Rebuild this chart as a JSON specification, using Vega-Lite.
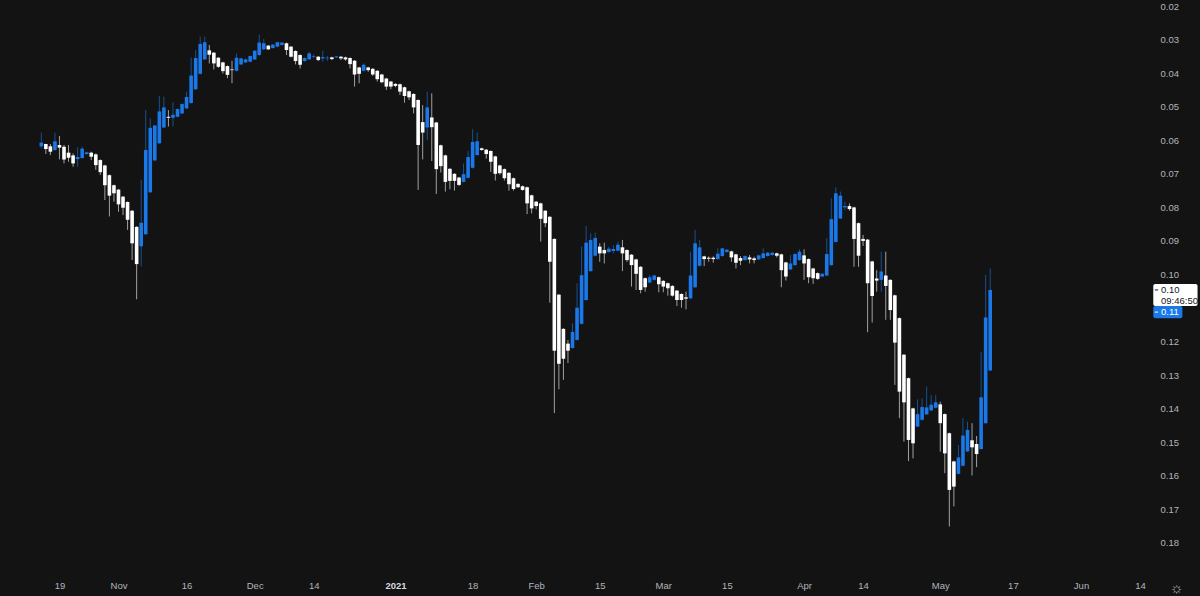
{"$schema":"https://vega.github.io/schema/vega-lite/v6.json","width":1200,"height":596,"padding":0,"autosize":{"type":"none"},"background":"#131313","view":{"stroke":null},"config":{"font":"Liberation Sans"},
"datasets":{"candles":[
{"date":"2020-10-15","open":0.0618,"high":0.0624,"low":0.0577,"close":0.0607},
{"date":"2020-10-16","open":0.0611,"high":0.0641,"low":0.0611,"close":0.0626},
{"date":"2020-10-17","open":0.0618,"high":0.0644,"low":0.0611,"close":0.0634},
{"date":"2020-10-18","open":0.0629,"high":0.0631,"low":0.0577,"close":0.0603},
{"date":"2020-10-19","open":0.0614,"high":0.0657,"low":0.0587,"close":0.0622},
{"date":"2020-10-20","open":0.0619,"high":0.0669,"low":0.0614,"close":0.0657},
{"date":"2020-10-21","open":0.0637,"high":0.0664,"low":0.0614,"close":0.0652},
{"date":"2020-10-22","open":0.0645,"high":0.0679,"low":0.0639,"close":0.0669},
{"date":"2020-10-23","open":0.0656,"high":0.0679,"low":0.0621,"close":0.0650},
{"date":"2020-10-24","open":0.0653,"high":0.0655,"low":0.0619,"close":0.0625},
{"date":"2020-10-25","open":0.0641,"high":0.0643,"low":0.0634,"close":0.0636},
{"date":"2020-10-26","open":0.0637,"high":0.0659,"low":0.0634,"close":0.0649},
{"date":"2020-10-27","open":0.0642,"high":0.0688,"low":0.0639,"close":0.0674},
{"date":"2020-10-28","open":0.0659,"high":0.0703,"low":0.0657,"close":0.0695},
{"date":"2020-10-29","open":0.0675,"high":0.0778,"low":0.0673,"close":0.0734},
{"date":"2020-10-30","open":0.0704,"high":0.0827,"low":0.0702,"close":0.0765},
{"date":"2020-10-31","open":0.0734,"high":0.0783,"low":0.0732,"close":0.0758},
{"date":"2020-11-01","open":0.0747,"high":0.0813,"low":0.0745,"close":0.0791},
{"date":"2020-11-02","open":0.0768,"high":0.0823,"low":0.0766,"close":0.0801},
{"date":"2020-11-03","open":0.0784,"high":0.0867,"low":0.0782,"close":0.0837},
{"date":"2020-11-04","open":0.0810,"high":0.0957,"low":0.0808,"close":0.0907},
{"date":"2020-11-05","open":0.0858,"high":0.1074,"low":0.0856,"close":0.0969},
{"date":"2020-11-06","open":0.0916,"high":0.0976,"low":0.0718,"close":0.0846},
{"date":"2020-11-07","open":0.0880,"high":0.0882,"low":0.0510,"close":0.0629},
{"date":"2020-11-08","open":0.0755,"high":0.0757,"low":0.0535,"close":0.0563},
{"date":"2020-11-09","open":0.0660,"high":0.0662,"low":0.0554,"close":0.0556},
{"date":"2020-11-10","open":0.0609,"high":0.0611,"low":0.0468,"close":0.0514},
{"date":"2020-11-11","open":0.0562,"high":0.0564,"low":0.0470,"close":0.0502},
{"date":"2020-11-12","open":0.0530,"high":0.0559,"low":0.0510,"close":0.0533},
{"date":"2020-11-13","open":0.0533,"high":0.0559,"low":0.0487,"close":0.0524},
{"date":"2020-11-14","open":0.0530,"high":0.0532,"low":0.0505,"close":0.0507},
{"date":"2020-11-15","open":0.0520,"high":0.0522,"low":0.0490,"close":0.0492},
{"date":"2020-11-16","open":0.0505,"high":0.0507,"low":0.0455,"close":0.0471},
{"date":"2020-11-17","open":0.0489,"high":0.0491,"low":0.0353,"close":0.0407},
{"date":"2020-11-18","open":0.0448,"high":0.0450,"low":0.0331,"close":0.0355},
{"date":"2020-11-19","open":0.0402,"high":0.0404,"low":0.0291,"close":0.0313},
{"date":"2020-11-20","open":0.0359,"high":0.0361,"low":0.0291,"close":0.0308},
{"date":"2020-11-21","open":0.0332,"high":0.0371,"low":0.0316,"close":0.0345},
{"date":"2020-11-22","open":0.0339,"high":0.0389,"low":0.0337,"close":0.0371},
{"date":"2020-11-23","open":0.0354,"high":0.0384,"low":0.0352,"close":0.0381},
{"date":"2020-11-24","open":0.0368,"high":0.0401,"low":0.0366,"close":0.0394},
{"date":"2020-11-25","open":0.0379,"high":0.0415,"low":0.0377,"close":0.0405},
{"date":"2020-11-26","open":0.0389,"high":0.0430,"low":0.0363,"close":0.0391},
{"date":"2020-11-27","open":0.0393,"high":0.0395,"low":0.0341,"close":0.0354},
{"date":"2020-11-28","open":0.0374,"high":0.0376,"low":0.0354,"close":0.0356},
{"date":"2020-11-29","open":0.0368,"high":0.0370,"low":0.0357,"close":0.0359},
{"date":"2020-11-30","open":0.0366,"high":0.0368,"low":0.0347,"close":0.0349},
{"date":"2020-12-01","open":0.0359,"high":0.0361,"low":0.0331,"close":0.0333},
{"date":"2020-12-02","open":0.0346,"high":0.0348,"low":0.0285,"close":0.0309},
{"date":"2020-12-03","open":0.0329,"high":0.0331,"low":0.0298,"close":0.0311},
{"date":"2020-12-04","open":0.0318,"high":0.0331,"low":0.0316,"close":0.0329},
{"date":"2020-12-05","open":0.0325,"high":0.0327,"low":0.0313,"close":0.0315},
{"date":"2020-12-06","open":0.0321,"high":0.0323,"low":0.0306,"close":0.0308},
{"date":"2020-12-07","open":0.0316,"high":0.0318,"low":0.0307,"close":0.0309},
{"date":"2020-12-08","open":0.0311,"high":0.0346,"low":0.0309,"close":0.0331},
{"date":"2020-12-09","open":0.0321,"high":0.0353,"low":0.0319,"close":0.0351},
{"date":"2020-12-10","open":0.0334,"high":0.0374,"low":0.0332,"close":0.0364},
{"date":"2020-12-11","open":0.0346,"high":0.0386,"low":0.0344,"close":0.0375},
{"date":"2020-12-12","open":0.0364,"high":0.0366,"low":0.0353,"close":0.0355},
{"date":"2020-12-13","open":0.0359,"high":0.0361,"low":0.0336,"close":0.0341},
{"date":"2020-12-14","open":0.0351,"high":0.0356,"low":0.0344,"close":0.0349},
{"date":"2020-12-15","open":0.0351,"high":0.0364,"low":0.0349,"close":0.0361},
{"date":"2020-12-16","open":0.0356,"high":0.0366,"low":0.0333,"close":0.0352},
{"date":"2020-12-17","open":0.0356,"high":0.0363,"low":0.0349,"close":0.0354},
{"date":"2020-12-18","open":0.0353,"high":0.0361,"low":0.0351,"close":0.0358},
{"date":"2020-12-19","open":0.0353,"high":0.0355,"low":0.0349,"close":0.0350},
{"date":"2020-12-20","open":0.0351,"high":0.0361,"low":0.0349,"close":0.0356},
{"date":"2020-12-21","open":0.0353,"high":0.0363,"low":0.0351,"close":0.0359},
{"date":"2020-12-22","open":0.0355,"high":0.0386,"low":0.0353,"close":0.0373},
{"date":"2020-12-23","open":0.0363,"high":0.0440,"low":0.0361,"close":0.0404},
{"date":"2020-12-24","open":0.0383,"high":0.0430,"low":0.0381,"close":0.0402},
{"date":"2020-12-25","open":0.0393,"high":0.0395,"low":0.0371,"close":0.0375},
{"date":"2020-12-26","open":0.0383,"high":0.0396,"low":0.0381,"close":0.0391},
{"date":"2020-12-27","open":0.0387,"high":0.0408,"low":0.0385,"close":0.0404},
{"date":"2020-12-28","open":0.0393,"high":0.0425,"low":0.0391,"close":0.0418},
{"date":"2020-12-29","open":0.0404,"high":0.0430,"low":0.0402,"close":0.0427},
{"date":"2020-12-30","open":0.0416,"high":0.0450,"low":0.0414,"close":0.0440},
{"date":"2020-12-31","open":0.0425,"high":0.0448,"low":0.0423,"close":0.0440},
{"date":"2021-01-01","open":0.0432,"high":0.0442,"low":0.0430,"close":0.0438},
{"date":"2021-01-02","open":0.0433,"high":0.0465,"low":0.0431,"close":0.0455},
{"date":"2021-01-03","open":0.0442,"high":0.0488,"low":0.0440,"close":0.0468},
{"date":"2021-01-04","open":0.0454,"high":0.0480,"low":0.0452,"close":0.0472},
{"date":"2021-01-05","open":0.0462,"high":0.0520,"low":0.0460,"close":0.0502},
{"date":"2021-01-06","open":0.0480,"high":0.0748,"low":0.0478,"close":0.0614},
{"date":"2021-01-07","open":0.0546,"high":0.0657,"low":0.0495,"close":0.0577},
{"date":"2021-01-08","open":0.0562,"high":0.0599,"low":0.0455,"close":0.0502},
{"date":"2021-01-09","open":0.0532,"high":0.0662,"low":0.0460,"close":0.0561},
{"date":"2021-01-10","open":0.0547,"high":0.0760,"low":0.0545,"close":0.0686},
{"date":"2021-01-11","open":0.0615,"high":0.0696,"low":0.0613,"close":0.0677},
{"date":"2021-01-12","open":0.0645,"high":0.0753,"low":0.0643,"close":0.0724},
{"date":"2021-01-13","open":0.0685,"high":0.0746,"low":0.0683,"close":0.0721},
{"date":"2021-01-14","open":0.0700,"high":0.0750,"low":0.0698,"close":0.0721},
{"date":"2021-01-15","open":0.0711,"high":0.0736,"low":0.0709,"close":0.0733},
{"date":"2021-01-16","open":0.0724,"high":0.0726,"low":0.0669,"close":0.0701},
{"date":"2021-01-17","open":0.0712,"high":0.0714,"low":0.0632,"close":0.0650},
{"date":"2021-01-18","open":0.0682,"high":0.0684,"low":0.0567,"close":0.0605},
{"date":"2021-01-19","open":0.0644,"high":0.0646,"low":0.0577,"close":0.0603},
{"date":"2021-01-20","open":0.0624,"high":0.0631,"low":0.0622,"close":0.0629},
{"date":"2021-01-21","open":0.0628,"high":0.0655,"low":0.0626,"close":0.0641},
{"date":"2021-01-22","open":0.0632,"high":0.0694,"low":0.0630,"close":0.0664},
{"date":"2021-01-23","open":0.0648,"high":0.0720,"low":0.0646,"close":0.0700},
{"date":"2021-01-24","open":0.0675,"high":0.0703,"low":0.0673,"close":0.0698},
{"date":"2021-01-25","open":0.0686,"high":0.0720,"low":0.0684,"close":0.0713},
{"date":"2021-01-26","open":0.0697,"high":0.0750,"low":0.0695,"close":0.0731},
{"date":"2021-01-27","open":0.0713,"high":0.0750,"low":0.0711,"close":0.0745},
{"date":"2021-01-28","open":0.0730,"high":0.0742,"low":0.0728,"close":0.0740},
{"date":"2021-01-29","open":0.0737,"high":0.0750,"low":0.0735,"close":0.0748},
{"date":"2021-01-30","open":0.0740,"high":0.0820,"low":0.0738,"close":0.0788},
{"date":"2021-01-31","open":0.0764,"high":0.0818,"low":0.0762,"close":0.0803},
{"date":"2021-02-01","open":0.0783,"high":0.0806,"low":0.0781,"close":0.0796},
{"date":"2021-02-02","open":0.0788,"high":0.0902,"low":0.0786,"close":0.0834},
{"date":"2021-02-03","open":0.0810,"high":0.0859,"low":0.0808,"close":0.0847},
{"date":"2021-02-04","open":0.0828,"high":0.1084,"low":0.0826,"close":0.0962},
{"date":"2021-02-05","open":0.0894,"high":0.1413,"low":0.0892,"close":0.1227},
{"date":"2021-02-06","open":0.1060,"high":0.1342,"low":0.1058,"close":0.1266},
{"date":"2021-02-07","open":0.1162,"high":0.1314,"low":0.1160,"close":0.1251},
{"date":"2021-02-08","open":0.1206,"high":0.1264,"low":0.1195,"close":0.1227},
{"date":"2021-02-09","open":0.1219,"high":0.1221,"low":0.1145,"close":0.1171},
{"date":"2021-02-10","open":0.1195,"high":0.1197,"low":0.1026,"close":0.1099},
{"date":"2021-02-11","open":0.1147,"high":0.1149,"low":0.0917,"close":0.1002},
{"date":"2021-02-12","open":0.1076,"high":0.1078,"low":0.0855,"close":0.0905},
{"date":"2021-02-13","open":0.0990,"high":0.0992,"low":0.0877,"close":0.0897},
{"date":"2021-02-14","open":0.0944,"high":0.0946,"low":0.0875,"close":0.0891},
{"date":"2021-02-15","open":0.0917,"high":0.0962,"low":0.0907,"close":0.0937},
{"date":"2021-02-16","open":0.0927,"high":0.0967,"low":0.0905,"close":0.0937},
{"date":"2021-02-17","open":0.0933,"high":0.0935,"low":0.0917,"close":0.0923},
{"date":"2021-02-18","open":0.0930,"high":0.0937,"low":0.0912,"close":0.0924},
{"date":"2021-02-19","open":0.0929,"high":0.0931,"low":0.0902,"close":0.0911},
{"date":"2021-02-20","open":0.0919,"high":0.0990,"low":0.0897,"close":0.0937},
{"date":"2021-02-21","open":0.0927,"high":0.0962,"low":0.0925,"close":0.0957},
{"date":"2021-02-22","open":0.0941,"high":0.1036,"low":0.0939,"close":0.0972},
{"date":"2021-02-23","open":0.0955,"high":0.1046,"low":0.0953,"close":0.0998},
{"date":"2021-02-24","open":0.0977,"high":0.1056,"low":0.0975,"close":0.1046},
{"date":"2021-02-25","open":0.1011,"high":0.1051,"low":0.1009,"close":0.1038},
{"date":"2021-02-26","open":0.1024,"high":0.1026,"low":0.1001,"close":0.1008},
{"date":"2021-02-27","open":0.1016,"high":0.1018,"low":0.1001,"close":0.1003},
{"date":"2021-02-28","open":0.1008,"high":0.1053,"low":0.1006,"close":0.1029},
{"date":"2021-03-01","open":0.1019,"high":0.1053,"low":0.1017,"close":0.1036},
{"date":"2021-03-02","open":0.1026,"high":0.1063,"low":0.1024,"close":0.1041},
{"date":"2021-03-03","open":0.1034,"high":0.1066,"low":0.1032,"close":0.1063},
{"date":"2021-03-04","open":0.1048,"high":0.1094,"low":0.1046,"close":0.1076},
{"date":"2021-03-05","open":0.1058,"high":0.1099,"low":0.1056,"close":0.1076},
{"date":"2021-03-06","open":0.1068,"high":0.1104,"low":0.1051,"close":0.1072},
{"date":"2021-03-07","open":0.1071,"high":0.1073,"low":0.0932,"close":0.1003},
{"date":"2021-03-08","open":0.1038,"high":0.1040,"low":0.0867,"close":0.0907},
{"date":"2021-03-09","open":0.0974,"high":0.0976,"low":0.0897,"close":0.0919},
{"date":"2021-03-10","open":0.0946,"high":0.0975,"low":0.0944,"close":0.0954},
{"date":"2021-03-11","open":0.0950,"high":0.0962,"low":0.0946,"close":0.0953},
{"date":"2021-03-12","open":0.0950,"high":0.0965,"low":0.0946,"close":0.0954},
{"date":"2021-03-13","open":0.0954,"high":0.0956,"low":0.0922,"close":0.0938},
{"date":"2021-03-14","open":0.0945,"high":0.0947,"low":0.0920,"close":0.0922},
{"date":"2021-03-15","open":0.0933,"high":0.0935,"low":0.0924,"close":0.0926},
{"date":"2021-03-16","open":0.0931,"high":0.0962,"low":0.0929,"close":0.0949},
{"date":"2021-03-17","open":0.0940,"high":0.0982,"low":0.0938,"close":0.0965},
{"date":"2021-03-18","open":0.0951,"high":0.0972,"low":0.0945,"close":0.0959},
{"date":"2021-03-19","open":0.0957,"high":0.0959,"low":0.0943,"close":0.0945},
{"date":"2021-03-20","open":0.0949,"high":0.0967,"low":0.0942,"close":0.0955},
{"date":"2021-03-21","open":0.0952,"high":0.0967,"low":0.0947,"close":0.0957},
{"date":"2021-03-22","open":0.0955,"high":0.0957,"low":0.0941,"close":0.0943},
{"date":"2021-03-23","open":0.0951,"high":0.0953,"low":0.0922,"close":0.0937},
{"date":"2021-03-24","open":0.0945,"high":0.0947,"low":0.0933,"close":0.0935},
{"date":"2021-03-25","open":0.0942,"high":0.0944,"low":0.0933,"close":0.0935},
{"date":"2021-03-26","open":0.0937,"high":0.0949,"low":0.0935,"close":0.0944},
{"date":"2021-03-27","open":0.0940,"high":0.1038,"low":0.0938,"close":0.0987},
{"date":"2021-03-28","open":0.0964,"high":0.1018,"low":0.0962,"close":0.1006},
{"date":"2021-03-29","open":0.0985,"high":0.0987,"low":0.0942,"close":0.0967},
{"date":"2021-03-30","open":0.0972,"high":0.0974,"low":0.0937,"close":0.0939},
{"date":"2021-03-31","open":0.0957,"high":0.0959,"low":0.0925,"close":0.0932},
{"date":"2021-04-01","open":0.0943,"high":0.1016,"low":0.0925,"close":0.0967},
{"date":"2021-04-02","open":0.0954,"high":0.1026,"low":0.0952,"close":0.1008},
{"date":"2021-04-03","open":0.0982,"high":0.1028,"low":0.0980,"close":0.1011},
{"date":"2021-04-04","open":0.0996,"high":0.1016,"low":0.0994,"close":0.1013},
{"date":"2021-04-05","open":0.1006,"high":0.1008,"low":0.0996,"close":0.0998},
{"date":"2021-04-06","open":0.1003,"high":0.1005,"low":0.0892,"close":0.0939},
{"date":"2021-04-07","open":0.0972,"high":0.0974,"low":0.0773,"close":0.0835},
{"date":"2021-04-08","open":0.0903,"high":0.0905,"low":0.0740,"close":0.0758},
{"date":"2021-04-09","open":0.0833,"high":0.0835,"low":0.0753,"close":0.0765},
{"date":"2021-04-10","open":0.0800,"high":0.0808,"low":0.0783,"close":0.0796},
{"date":"2021-04-11","open":0.0796,"high":0.0810,"low":0.0788,"close":0.0805},
{"date":"2021-04-12","open":0.0800,"high":0.0977,"low":0.0798,"close":0.0894},
{"date":"2021-04-13","open":0.0847,"high":0.0977,"low":0.0845,"close":0.0944},
{"date":"2021-04-14","open":0.0894,"high":0.0915,"low":0.0882,"close":0.0900},
{"date":"2021-04-15","open":0.0896,"high":0.1172,"low":0.0894,"close":0.1026},
{"date":"2021-04-16","open":0.0961,"high":0.1143,"low":0.0959,"close":0.1064},
{"date":"2021-04-17","open":0.1012,"high":0.1051,"low":0.0987,"close":0.1018},
{"date":"2021-04-18","open":0.1016,"high":0.1051,"low":0.0932,"close":0.0991},
{"date":"2021-04-19","open":0.1003,"high":0.1135,"low":0.0932,"close":0.1034},
{"date":"2021-04-20","open":0.1016,"high":0.1135,"low":0.1014,"close":0.1106},
{"date":"2021-04-21","open":0.1062,"high":0.1329,"low":0.1060,"close":0.1203},
{"date":"2021-04-22","open":0.1130,"high":0.1428,"low":0.1128,"close":0.1349},
{"date":"2021-04-23","open":0.1239,"high":0.1498,"low":0.1237,"close":0.1381},
{"date":"2021-04-24","open":0.1309,"high":0.1556,"low":0.1307,"close":0.1493},
{"date":"2021-04-25","open":0.1399,"high":0.1548,"low":0.1397,"close":0.1503},
{"date":"2021-04-26","open":0.1453,"high":0.1455,"low":0.1372,"close":0.1416},
{"date":"2021-04-27","open":0.1433,"high":0.1435,"low":0.1369,"close":0.1395},
{"date":"2021-04-28","open":0.1417,"high":0.1418,"low":0.1334,"close":0.1396},
{"date":"2021-04-29","open":0.1405,"high":0.1407,"low":0.1359,"close":0.1388},
{"date":"2021-04-30","open":0.1397,"high":0.1399,"low":0.1359,"close":0.1381},
{"date":"2021-05-01","open":0.1387,"high":0.1528,"low":0.1379,"close":0.1443},
{"date":"2021-05-02","open":0.1416,"high":0.1592,"low":0.1414,"close":0.1533},
{"date":"2021-05-03","open":0.1473,"high":0.1751,"low":0.1471,"close":0.1642},
{"date":"2021-05-04","open":0.1557,"high":0.1691,"low":0.1555,"close":0.1632},
{"date":"2021-05-05","open":0.1594,"high":0.1596,"low":0.1508,"close":0.1545},
{"date":"2021-05-06","open":0.1570,"high":0.1572,"low":0.1428,"close":0.1480},
{"date":"2021-05-07","open":0.1527,"high":0.1529,"low":0.1438,"close":0.1463},
{"date":"2021-05-08","open":0.1494,"high":0.1599,"low":0.1443,"close":0.1515},
{"date":"2021-05-09","open":0.1505,"high":0.1574,"low":0.1481,"close":0.1535},
{"date":"2021-05-10","open":0.1520,"high":0.1522,"low":0.1230,"close":0.1366},
{"date":"2021-05-11","open":0.1443,"high":0.1445,"low":0.1001,"close":0.1128},
{"date":"2021-05-12","open":0.1286,"high":0.1288,"low":0.0982,"close":0.1046}
]},
"layer":[
{"data":{"name":"candles"},"mark":{"type":"rule","strokeWidth":1,"opacity":0.6},
"encoding":{
"x":{"field":"date","type":"temporal","title":null,"scale":{"type":"utc","padding":0,"domain":["2020-10-05T21:40:00Z","2021-06-27T05:00:00Z"]},
"axis":{"orient":"bottom","offset":-34,"domain":false,"ticks":false,"grid":false,"labelPadding":18,"labelFontSize":{"condition":{"test":"utcmonth(datum.value)==5 && utcdate(datum.value)==22","value":15},"value":9.5},"labelColor":{"condition":{"test":"utcmonth(datum.value)==0 && utcdate(datum.value)==1","value":"#d6d8de"},"value":"#b2b5be"},"labelFontWeight":{"condition":{"test":"utcmonth(datum.value)==0 && utcdate(datum.value)==1","value":"bold"},"value":"normal"},"labelOverlap":false,"labelFlush":false,"labelBound":false,
"values":["2020-10-19","2020-11-01","2020-11-16","2020-12-01","2020-12-14","2021-01-01","2021-01-18","2021-02-01","2021-02-15","2021-03-01","2021-03-15","2021-04-01","2021-04-14","2021-05-01","2021-05-17","2021-06-01","2021-06-14","2021-06-22"],
"labelExpr":"utcmonth(datum.value)==5 && utcdate(datum.value)==22 ? '☼' : utcdate(datum.value)==1 ? (utcmonth(datum.value)==0 ? '2021' : utcFormat(datum.value,'%b')) : utcFormat(datum.value,'%-d')"}},
"y":{"field":"low","type":"quantitative","title":null,"scale":{"domain":[0.0182,0.1958],"reverse":true,"zero":false,"nice":false},
"axis":{"orient":"right","offset":-52,"domain":false,"ticks":false,"grid":false,"labelPadding":12,"labelFontSize":9.5,"labelColor":"#b2b5be","labelOverlap":false,"labelBound":false,"format":".2f","tickCount":20,"values":[0.02,0.03,0.04,0.05,0.06,0.07,0.08,0.09,0.10,0.12,0.13,0.14,0.15,0.16,0.17,0.18]}},
"y2":{"field":"high"},
"color":{"condition":{"test":"datum.close<datum.open","value":"#1a78e8"},"value":"#ffffff"}}},
{"data":{"name":"candles"},"mark":{"type":"bar","size":3.6},
"encoding":{
"x":{"field":"date","type":"temporal","title":null,"scale":{"type":"utc","padding":0,"domain":["2020-10-05T21:40:00Z","2021-06-27T05:00:00Z"]}},
"y":{"field":"open","type":"quantitative","title":null,"scale":{"domain":[0.0182,0.1958],"reverse":true,"zero":false,"nice":false}},
"y2":{"field":"close"},
"color":{"condition":{"test":"datum.close<datum.open","value":"#1a78e8"},"value":"#ffffff"}}},
{"data":{"values":[{"start":"2021-06-16T22:00:00Z","end":"2021-06-26T16:00:00Z","top":0.1028,"bottom":0.1094}]},"mark":{"type":"rect","color":"#ffffff","cornerRadius":2},
"encoding":{"x":{"field":"start","type":"temporal","title":null,"scale":{"type":"utc","padding":0,"domain":["2020-10-05T21:40:00Z","2021-06-27T05:00:00Z"]}},"x2":{"field":"end"},"y":{"field":"top","type":"quantitative","title":null,"scale":{"domain":[0.0182,0.1958],"reverse":true,"zero":false,"nice":false}},"y2":{"field":"bottom"}}},
{"data":{"values":[{"start":"2021-06-16T22:00:00Z","end":"2021-06-23T08:00:00Z","top":0.1094,"bottom":0.1130}]},"mark":{"type":"rect","color":"#1a78e8","cornerRadius":2},
"encoding":{"x":{"field":"start","type":"temporal","title":null,"scale":{"type":"utc","padding":0,"domain":["2020-10-05T21:40:00Z","2021-06-27T05:00:00Z"]}},"x2":{"field":"end"},"y":{"field":"top","type":"quantitative","title":null,"scale":{"domain":[0.0182,0.1958],"reverse":true,"zero":false,"nice":false}},"y2":{"field":"bottom"}}},
{"data":{"values":[{"date":"2021-06-18T15:00:00Z","price":0.1046,"label":"0.10"},{"date":"2021-06-18T15:00:00Z","price":0.1078,"label":"09:46:50"}]},"mark":{"type":"text","color":"#131722","align":"left","baseline":"middle","fontSize":9.5},
"encoding":{"x":{"field":"date","type":"temporal","title":null,"scale":{"type":"utc","padding":0,"domain":["2020-10-05T21:40:00Z","2021-06-27T05:00:00Z"]}},"y":{"field":"price","type":"quantitative","title":null,"scale":{"domain":[0.0182,0.1958],"reverse":true,"zero":false,"nice":false}},"text":{"field":"label"}}},
{"data":{"values":[{"date":"2021-06-18T15:00:00Z","price":0.1112,"label":"0.11"}]},"mark":{"type":"text","color":"#ffffff","align":"left","baseline":"middle","fontSize":9.5},
"encoding":{"x":{"field":"date","type":"temporal","title":null,"scale":{"type":"utc","padding":0,"domain":["2020-10-05T21:40:00Z","2021-06-27T05:00:00Z"]}},"y":{"field":"price","type":"quantitative","title":null,"scale":{"domain":[0.0182,0.1958],"reverse":true,"zero":false,"nice":false}},"text":{"field":"label"}}},
{"data":{"values":[{"start":"2021-06-17T06:00:00Z","end":"2021-06-18T00:00:00Z","price":0.1046}]},"mark":{"type":"rule","color":"#131722","strokeWidth":1},
"encoding":{"x":{"field":"start","type":"temporal","title":null,"scale":{"type":"utc","padding":0,"domain":["2020-10-05T21:40:00Z","2021-06-27T05:00:00Z"]}},"x2":{"field":"end"},"y":{"field":"price","type":"quantitative","title":null,"scale":{"domain":[0.0182,0.1958],"reverse":true,"zero":false,"nice":false}}}},
{"data":{"values":[{"start":"2021-06-17T06:00:00Z","end":"2021-06-18T00:00:00Z","price":0.1112}]},"mark":{"type":"rule","color":"#ffffff","strokeWidth":1},
"encoding":{"x":{"field":"start","type":"temporal","title":null,"scale":{"type":"utc","padding":0,"domain":["2020-10-05T21:40:00Z","2021-06-27T05:00:00Z"]}},"x2":{"field":"end"},"y":{"field":"price","type":"quantitative","title":null,"scale":{"domain":[0.0182,0.1958],"reverse":true,"zero":false,"nice":false}}}}
]}
